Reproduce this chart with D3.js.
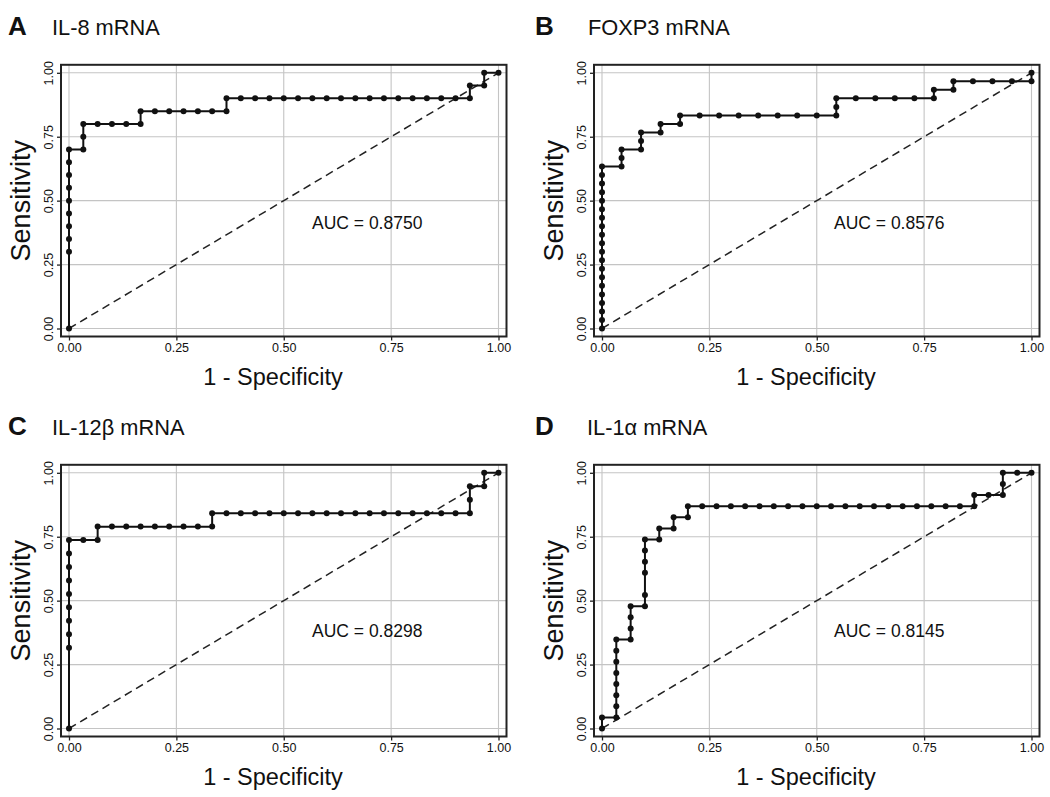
<!DOCTYPE html>
<html><head><meta charset="utf-8">
<script src="https://cdn.jsdelivr.net/npm/d3@7"></script>
<style>
html,body{margin:0;padding:0;background:#fff;}
text{font-family:"Liberation Sans",Arial,Helvetica,sans-serif;fill:#111;}
</style></head>
<body>
<svg id="chart" width="1050" height="797"></svg>
<script>
// ---------- DATA ----------
const panelLetters = ["A", "B", "C", "D"];
const panelTitles = ["IL-8 mRNA", "FOXP3 mRNA", "IL-12\u03B2 mRNA", "IL-1\u03B1 mRNA"];
const aucLabels = ["AUC = 0.8750", "AUC = 0.8576", "AUC = 0.8298", "AUC = 0.8145"];
const tickValues = [0, 0.25, 0.5, 0.75, 1];
const tickLabels = ["0.00", "0.25", "0.50", "0.75", "1.00"];
const xLabel = "1 - Specificity";
const yLabel = "Sensitivity";

// Panel A: IL-8
const fprA = [0,0,0,0,0,0,0,0,0,0, 0.0333,0.0333,0.0333, 0.0667,0.1,0.1333,0.1667,0.1667,
  0.2,0.2333,0.2667,0.3,0.3333,0.3667,0.3667,
  0.4,0.4333,0.4667,0.5,0.5333,0.5667,0.6,0.6333,0.6667,0.7,0.7333,0.7667,0.8,0.8333,0.8667,0.9,0.9333,
  0.9333,0.9667,0.9667,1];
const sensA = [0,0.30,0.35,0.40,0.45,0.50,0.55,0.60,0.65,0.70, 0.70,0.75,0.80, 0.80,0.80,0.80,0.80,0.85,
  0.85,0.85,0.85,0.85,0.85,0.85,0.90,
  0.90,0.90,0.90,0.90,0.90,0.90,0.90,0.90,0.90,0.90,0.90,0.90,0.90,0.90,0.90,0.90,0.90,
  0.95,0.95,1.0,1.0];

// Panel B: FOXP3
const fprB = [0,0,0,0,0,0,0,0,0,0,0,0,0,0,0,0,0,0,0,0,
  0.0455,0.0455,0.0455, 0.0909,0.0909,0.0909, 0.1364,0.1364, 0.1818,0.1818,
  0.2273,0.2727,0.3182,0.3636,0.4091,0.4545,0.5, 0.5455,0.5455,0.5455,
  0.5909,0.6364,0.6818,0.7273,0.7727,0.7727, 0.8182,0.8182, 0.8636,0.9091,0.9545,1,1];
const sensB = [0,0.0333,0.0667,0.1,0.1333,0.1667,0.2,0.2333,0.2667,0.3,0.3333,0.3667,0.4,0.4333,0.4667,0.5,0.5333,0.5667,0.6,0.6333,
  0.6333,0.6667,0.7, 0.7,0.7333,0.7667, 0.7667,0.8, 0.8,0.8333,
  0.8333,0.8333,0.8333,0.8333,0.8333,0.8333,0.8333, 0.8333,0.8667,0.9,
  0.9,0.9,0.9,0.9,0.9,0.9333, 0.9333,0.9667, 0.9667,0.9667,0.9667,0.9667,1.0];

// Panel C: IL-12beta
const fprC = [0,0,0,0,0,0,0,0,0,0, 0.0333, 0.0667,0.0667,
  0.1,0.1333,0.1667,0.2,0.2333,0.2667,0.3,0.3333,0.3333,
  0.3667,0.4,0.4333,0.4667,0.5,0.5333,0.5667,0.6,0.6333,0.6667,0.7,0.7333,0.7667,0.8,0.8333,0.8667,0.9,0.9333,
  0.9333,0.9333, 0.9667,0.9667, 1];
const sensC = [0,0.3158,0.3684,0.4211,0.4737,0.5263,0.5789,0.6316,0.6842,0.7368, 0.7368, 0.7368,0.7895,
  0.7895,0.7895,0.7895,0.7895,0.7895,0.7895,0.7895,0.7895,0.8421,
  0.8421,0.8421,0.8421,0.8421,0.8421,0.8421,0.8421,0.8421,0.8421,0.8421,0.8421,0.8421,0.8421,0.8421,0.8421,0.8421,0.8421,0.8421,
  0.8947,0.9474, 0.9474,1.0, 1.0];

// Panel D: IL-1alpha
const fprD = [0,0, 0.0333,0.0333,0.0333,0.0333,0.0333,0.0333,0.0333,0.0333,
  0.0667,0.0667,0.0667,0.0667, 0.1,0.1,0.1,0.1,0.1,0.1, 0.1333,0.1333, 0.1667,0.1667, 0.2,0.2,
  0.2333,0.2667,0.3,0.3333,0.3667,0.4,0.4333,0.4667,0.5,0.5333,0.5667,0.6,0.6333,0.6667,0.7,0.7333,0.7667,0.8,0.8333,0.8667,
  0.8667, 0.9, 0.9333,0.9333,0.9333, 0.9667, 1];
const sensD = [0,0.0435, 0.0435,0.087,0.1304,0.1739,0.2174,0.2609,0.3043,0.3478,
  0.3478,0.3913,0.4348,0.4783, 0.4783,0.5217,0.6087,0.6522,0.6957,0.7391, 0.7391,0.7826, 0.7826,0.8261, 0.8261,0.8696,
  0.8696,0.8696,0.8696,0.8696,0.8696,0.8696,0.8696,0.8696,0.8696,0.8696,0.8696,0.8696,0.8696,0.8696,0.8696,0.8696,0.8696,0.8696,0.8696,0.8696,
  0.913, 0.913, 0.913,0.9565,1.0, 1.0, 1.0];

const fprs = [fprA, fprB, fprC, fprD];
const senss = [sensA, sensB, sensC, sensD];

// ---------- LAYOUT ----------
const svg = d3.select("#chart");
const origins = [[0, 0], [533, 0], [0, 400], [533, 400]];
const letterX = [8, 2, 8, 2];
const titleX = [52, 55, 52, 54];
const aucX = [312, 301, 312, 301];
const aucY = [229, 229, 237, 237];
const pad = 8;

for (let p = 0; p < 4; p++) {
  const [ox, oy] = origins[p];
  const g = svg.append("g").attr("transform", `translate(${ox},${oy})`);
  const x = d3.scaleLinear().domain([0, 1]).range([69, 498.5]);
  const y = d3.scaleLinear().domain([0, 1]).range([328.5, 72.8]);
  const bx0 = x(0) - pad, bx1 = x(1) + pad, by0 = y(1) - pad, by1 = y(0) + pad;

  // titles
  g.append("text").attr("x", letterX[p]).attr("y", 35)
    .attr("font-size", 26).attr("font-weight", "bold").text(panelLetters[p]);
  g.append("text").attr("x", titleX[p]).attr("y", 35)
    .attr("font-size", 21.8).text(panelTitles[p]);

  // grid
  g.append("g").selectAll("line.gx").data(tickValues).join("line")
    .attr("x1", d => x(d)).attr("x2", d => x(d)).attr("y1", by0).attr("y2", by1)
    .attr("stroke", "#c4c4c4").attr("stroke-width", 1.1);
  g.append("g").selectAll("line.gy").data(tickValues).join("line")
    .attr("y1", d => y(d)).attr("y2", d => y(d)).attr("x1", bx0).attr("x2", bx1)
    .attr("stroke", "#c4c4c4").attr("stroke-width", 1.1);

  // axes (ticks outside box)
  const xAxis = d3.axisBottom(x).tickValues(tickValues).tickFormat((d, i) => tickLabels[i])
    .tickSize(4).tickPadding(3);
  const xg = g.append("g").attr("transform", `translate(0,${by1})`).call(xAxis);
  xg.select(".domain").remove();
  xg.selectAll("line").attr("stroke", "#222").attr("stroke-width", 1.3);
  xg.selectAll("text").attr("font-size", 12.5).attr("fill", "#222")
    .attr("font-family", "'Liberation Sans', Arial, sans-serif");

  const yAxis = d3.axisLeft(y).tickValues(tickValues).tickFormat((d, i) => tickLabels[i])
    .tickSize(4).tickPadding(3);
  const yg = g.append("g").attr("transform", `translate(${bx0},0)`).call(yAxis);
  yg.select(".domain").remove();
  yg.selectAll("line").attr("stroke", "#222").attr("stroke-width", 1.3);
  yg.selectAll("text").attr("font-size", 12.5).attr("fill", "#222")
    .attr("font-family", "'Liberation Sans', Arial, sans-serif")
    .attr("text-anchor", "middle").attr("dy", null).attr("x", null)
    .attr("transform", d => `translate(${-8},0) rotate(-90)`)
    .attr("y", 0);

  // frame
  g.append("rect").attr("x", bx0).attr("y", by0).attr("width", bx1 - bx0).attr("height", by1 - by0)
    .attr("fill", "none").attr("stroke", "#222").attr("stroke-width", 2);

  // reference diagonal
  g.append("line").attr("x1", x(0)).attr("y1", y(0)).attr("x2", x(1)).attr("y2", y(1))
    .attr("stroke", "#222").attr("stroke-width", 1.5).attr("stroke-dasharray", "8,5");

  // ROC curve
  const pts = fprs[p].map((v, i) => [v, senss[p][i]]);
  const line = d3.line().x(d => x(d[0])).y(d => y(d[1]));
  g.append("path").datum(pts).attr("d", line).attr("fill", "none")
    .attr("stroke", "#111").attr("stroke-width", 2);
  g.append("g").selectAll("circle").data(pts).join("circle")
    .attr("cx", d => x(d[0])).attr("cy", d => y(d[1])).attr("r", 3).attr("fill", "#111");

  // AUC text
  g.append("text").attr("x", aucX[p]).attr("y", aucY[p]).attr("font-size", 17.5).text(aucLabels[p]);

  // axis titles
  g.append("text").attr("x", 273).attr("y", 385).attr("text-anchor", "middle")
    .attr("font-size", 23.5).text(xLabel);
  g.append("text").attr("transform", `translate(29.5,${(y(0) + y(1)) / 2}) rotate(-90)`)
    .attr("text-anchor", "middle").attr("font-size", 27).text(yLabel);
}
</script>
</body></html>
